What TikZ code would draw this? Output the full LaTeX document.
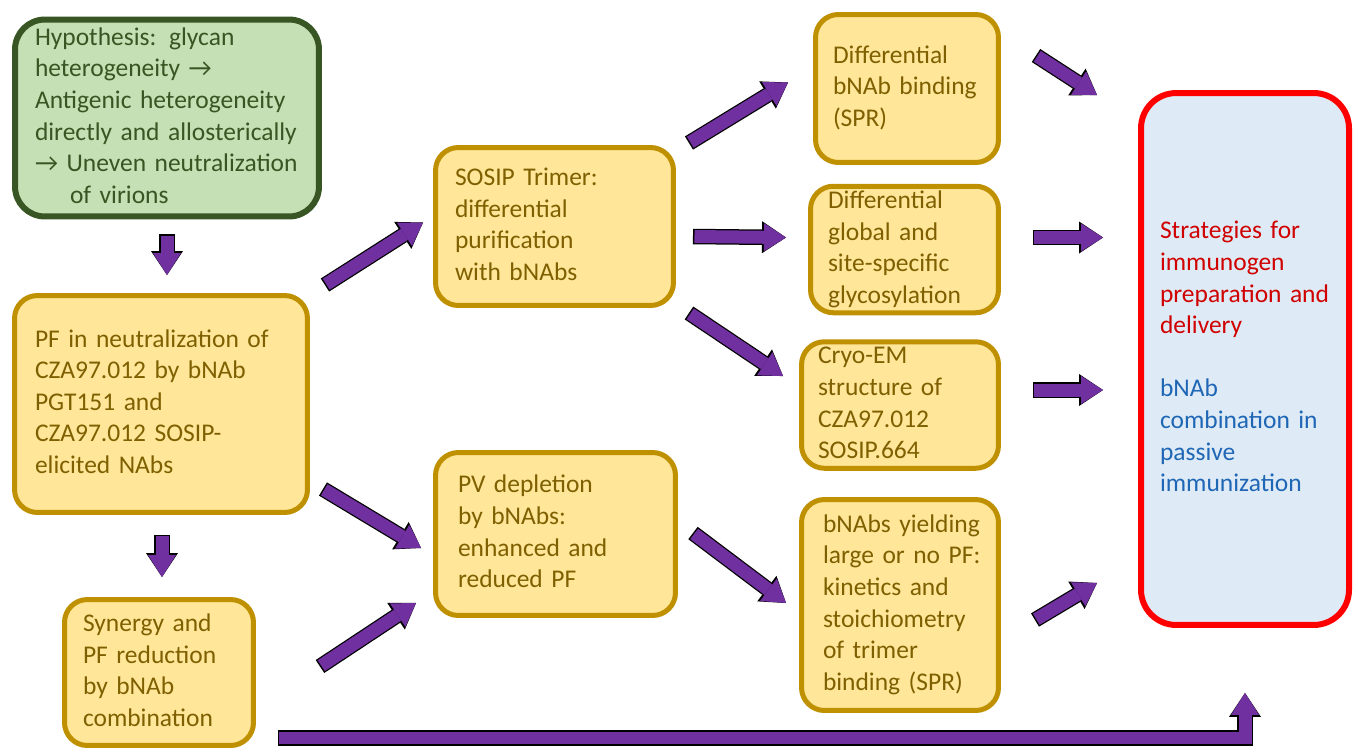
\documentclass[tikz,border=0pt]{standalone}
\usepackage{fontspec}
\setmainfont{Carlito}
\usetikzlibrary{arrows.meta, calc}
\definecolor{hypfill}{HTML}{C5E0B4}
\definecolor{hypline}{HTML}{375623}
\definecolor{yelfill}{HTML}{FFE699}
\definecolor{yelline}{HTML}{BF9000}
\definecolor{yeltext}{HTML}{7F6000}
\definecolor{stratfill}{HTML}{DEEBF7}
\definecolor{stratline}{HTML}{FF0000}
\definecolor{stratred}{HTML}{D00000}
\definecolor{stratblue}{HTML}{1F66B5}
\definecolor{arrowpurple}{HTML}{7030A0}
\newcommand{\boxlines}[1]{\begin{tabular}{@{}l@{}}#1\end{tabular}}

\begin{document}
\begin{tikzpicture}[
    x=0.02cm, y=-0.02cm,
    every node/.style={font=\fontsize{14.5}{18}\selectfont, inner sep=0pt, align=left},
    hypbox/.style={rounded corners=17pt, fill=hypfill, draw=hypline, line width=0.12cm, text=hypline},
    ybox/.style={rounded corners=13pt, fill=yelfill, draw=yelline, line width=0.10cm, text=yeltext},
    stratbox/.style={rounded corners=20pt, fill=stratfill, draw=stratline, line width=0.12cm, text=stratred},
    barrow/.style={line width=0.26cm, draw=arrowpurple, shorten <=0.03cm,
        -{Triangle[length=0.44cm, width=0.56cm, line width=0pt]},
        preaction={draw=black, line width=0.31cm, shorten <=0pt,
        -{Triangle[length=0.48cm, width=0.64cm, line width=0pt]}}},
]
\useasboundingbox (0,0) rectangle (1358,754);

% Hypothesis
\node[hypbox, minimum width=6.08cm, minimum height=3.94cm, text width=5.28cm] (hyp) at (167,118)
    {\boxlines{Hypothesis: glycan\\heterogeneity →\\Antigenic heterogeneity\\directly and allosterically\\→ Uneven neutralization\\\hspace*{0.7cm}of virions}};

% Left column
\node[ybox, minimum width=5.86cm, minimum height=4.34cm, text width=5.04cm] (pf) at (161,404)
    {\boxlines{PF in neutralization of\\CZA97.012 by bNAb\\PGT151 and\\CZA97.012 SOSIP-\\elicited NAbs}};
\node[ybox, minimum width=3.78cm, minimum height=2.92cm, text width=3.04cm] (syn) at (159,672.5)
    {\boxlines{Synergy and\\PF reduction\\by bNAb\\combination}};

% Middle column
\node[ybox, minimum width=4.76cm, minimum height=3.16cm, text width=3.98cm] (sosip) at (554.5,226.5)
    {\boxlines{SOSIP Trimer:\\differential\\purification\\with bNAbs}};
\node[ybox, minimum width=4.80cm, minimum height=3.26cm, text width=3.90cm] (pv) at (555.5,534)
    {\boxlines{PV depletion\\by bNAbs:\\enhanced and\\reduced PF}};

% Right column
\node[ybox, minimum width=3.66cm, minimum height=2.96cm, text width=2.96cm] (diffb) at (907,88.5)
    {\boxlines{Differential\\bNAb binding\\(SPR)}};
\node[ybox, minimum width=3.76cm, minimum height=2.40cm, text width=3.06cm] (glyc) at (904.5,249.5)
    {\boxlines{Differential\\global and\\site-specific\\glycosylation}};
\node[ybox, minimum width=3.94cm, minimum height=2.38cm, text width=3.28cm] (cryo) at (900,405)
    {\boxlines{Cryo-EM\\structure of\\CZA97.012\\SOSIP.664}};
\node[ybox, minimum width=3.94cm, minimum height=4.22cm, text width=3.08cm] (kin) at (900,605)
    {\boxlines{bNAbs yielding\\large or no PF:\\kinetics and\\stoichiometry\\of trimer\\binding (SPR)}};

% Strategies
\node[stratbox, minimum width=4.16cm, minimum height=10.64cm, text width=3.40cm] (strat) at (1245,359)
    {\boxlines{Strategies for\\immunogen\\preparation and\\delivery\\[18pt]
    \textcolor{stratblue}{bNAb}\\\textcolor{stratblue}{combination in}\\\textcolor{stratblue}{passive}\\\textcolor{stratblue}{immunization}}};

% Arrows
\draw[barrow] ($(hyp.south)+(0,15)$) -- ($(hyp.south |- pf.north)+(0,-18)$);
\draw[barrow] ($(pf.south)+(1,20)$) -- ($(pf.south |- syn.north)+(1,-20)$);
\draw[barrow] ($(pf.north east)+(15,-8)$) -- ($(sosip.west)+(-10,-4)$);
\draw[barrow] ($(pf.south east)+(13,-26)$) -- ($(pv.west)+(-12,14)$);
\draw[barrow] ($(syn.east)+(64,-6)$) -- ($(pv.south west)+(-17,-15)$);
\draw[barrow] ($(sosip.north east)+(13,-2)$) -- ($(diffb.west)+(-25,-6)$);
\draw[barrow] ($(sosip.east)+(17,10)$) -- ($(glyc.west)+(-22,-12)$);
\draw[barrow] ($(sosip.south east)+(13,5)$) -- ($(cryo.west)+(-16,-29)$);
\draw[barrow] ($(pv.east)+(15,-1)$) -- ($(kin.west)+(-13,-2)$);
\draw[barrow] ($(diffb.east)+(35,-33)$) -- ($(strat.north west)+(-41,5)$);
\draw[barrow] ($(glyc.east)+(32,-12)$) -- ($(glyc.east -| strat.west)+(-35,-12)$);
\draw[barrow] ($(cryo.east)+(32,-15)$) -- ($(cryo.east -| strat.west)+(-35,-15)$);
\draw[barrow] ($(kin.east)+(34,15)$) -- ($(strat.south west)+(-41,-45)$);
\draw[barrow] ($(syn.south east)+(22,-10)$) -| ($(strat.south)+(0,65)$);

\end{tikzpicture}
\end{document}
